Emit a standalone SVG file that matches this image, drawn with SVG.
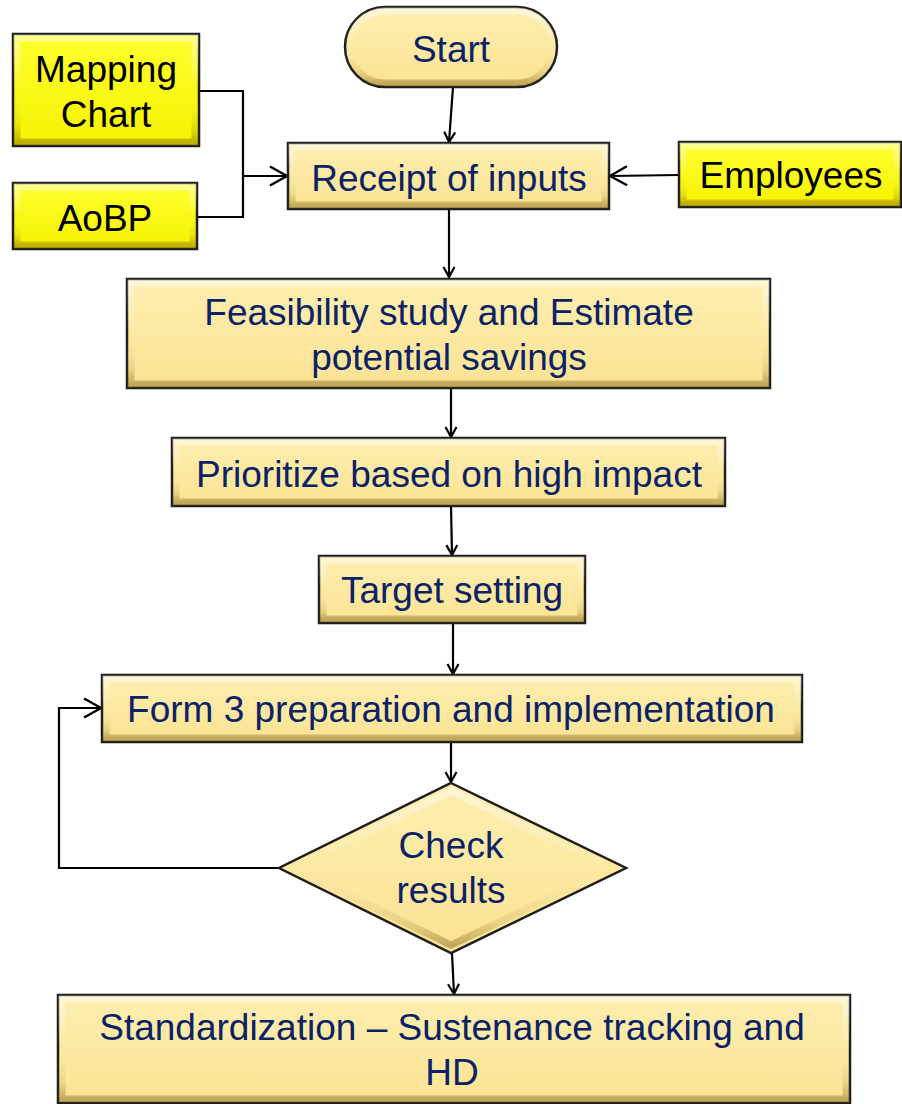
<svg xmlns="http://www.w3.org/2000/svg" width="902" height="1104" viewBox="0 0 902 1104">
<style>
.box{stroke:#1e1e1e;stroke-width:2.5}
.beige{fill:url(#gBeige)}
.yellow{fill:url(#gYellow)}
.bev{fill:none;stroke-width:7;stroke:url(#gBev)}
.t{font-family:"Liberation Sans",Arial,sans-serif;font-size:37px;text-anchor:middle;fill:#0b2266}
.tk{fill:#000}
.c{fill:none;stroke:#000;stroke-width:2.2}
.a{marker-end:url(#arr)}
.A{marker-end:url(#arrL)}
</style>
<defs>
<linearGradient id="gBeige" x1="0" y1="0" x2="0" y2="1">
<stop offset="0" stop-color="#fdeeb0"/><stop offset="1" stop-color="#fbe393"/>
</linearGradient>
<linearGradient id="gYellow" x1="0" y1="0" x2="0" y2="1">
<stop offset="0" stop-color="#ffff30"/><stop offset="1" stop-color="#f6f200"/>
</linearGradient>
<linearGradient id="gBev" x1="0" y1="0" x2="0" y2="1">
<stop offset="0" stop-color="#ffffff" stop-opacity="0.45"/>
<stop offset="0.5" stop-color="#ffffff" stop-opacity="0"/>
<stop offset="0.85" stop-color="#8a6a10" stop-opacity="0.15"/>
<stop offset="1" stop-color="#6a5008" stop-opacity="0.4"/>
</linearGradient>
<marker id="arr" markerUnits="userSpaceOnUse" markerWidth="14" markerHeight="14" viewBox="0 0 14 14" refX="12" refY="7" orient="auto">
<path d="M2,1.5 L12,7 L2,12.5" fill="none" stroke="#000" stroke-width="2.2"/>
</marker>
<marker id="arrL" markerUnits="userSpaceOnUse" markerWidth="22" markerHeight="24" viewBox="0 0 22 24" refX="19" refY="12" orient="auto">
<path d="M2,2.5 L19,12 L2,21.5" fill="none" stroke="#000" stroke-width="2.4"/>
</marker>
</defs>
<rect width="902" height="1104" fill="#fff"/>

<g id="connectors">
<path class="c a" d="M453,87 L449,142"/>
<path class="c" d="M199,91 L243,91 L243,217 L197,217"/>
<path class="c A" d="M243,176 L287,176"/>
<path class="c A" d="M679,175 L610,176"/>
<path class="c a" d="M449,209 L449,277"/>
<path class="c a" d="M451,389 L451,437"/>
<path class="c a" d="M451,506 L452,555"/>
<path class="c a" d="M453,623 L453,674"/>
<path class="c a" d="M451,742 L451,782"/>
<path class="c A" d="M279,868 L59,868 L59,708 L101,708"/>
<path class="c a" d="M452,953 L454,994"/>
</g>

<g id="start">
<rect class="box beige" x="345" y="7" width="212" height="80" rx="40"/>
<rect class="bev" x="349" y="11" width="204" height="72" rx="36"/>
<text class="t" x="451" y="62">Start</text>
</g>

<g id="mapping">
<rect class="box yellow" x="13" y="34" width="186" height="112"/>
<rect class="bev" x="17" y="38" width="178" height="104"/>
<text class="t tk" x="106" y="82">Mapping</text>
<text class="t tk" x="106" y="127">Chart</text>
</g>

<g id="aobp">
<rect class="box yellow" x="13" y="183" width="184" height="66"/>
<rect class="bev" x="17" y="187" width="176" height="58"/>
<text class="t tk" x="105" y="231">AoBP</text>
</g>

<g id="receipt">
<rect class="box beige" x="288" y="143" width="321" height="66"/>
<rect class="bev" x="292" y="147" width="313" height="58"/>
<text class="t" x="449" y="191">Receipt of inputs</text>
</g>

<g id="employees">
<rect class="box yellow" x="679" y="142" width="222" height="65"/>
<rect class="bev" x="683" y="146" width="214" height="57"/>
<text class="t tk" x="791" y="188">Employees</text>
</g>

<g id="feasibility">
<rect class="box beige" x="127" y="279" width="643" height="109"/>
<rect class="bev" x="131" y="283" width="635" height="101"/>
<text class="t" x="449" y="325">Feasibility study and Estimate</text>
<text class="t" x="449" y="370">potential savings</text>
</g>

<g id="prioritize">
<rect class="box beige" x="172" y="438" width="553" height="68"/>
<rect class="bev" x="176" y="442" width="545" height="60"/>
<text class="t" x="449" y="487">Prioritize based on high impact</text>
</g>

<g id="target">
<rect class="box beige" x="319" y="556" width="266" height="67"/>
<rect class="bev" x="323" y="560" width="258" height="59"/>
<text class="t" x="452" y="603">Target setting</text>
</g>

<g id="form3">
<rect class="box beige" x="102" y="675" width="700" height="67"/>
<rect class="bev" x="106" y="679" width="692" height="59"/>
<text class="t" x="451" y="722">Form 3 preparation and implementation</text>
</g>

<g id="check">
<polygon class="box beige" points="451,783 626,868 451,953 279,868"/>
<polygon class="bev" points="451,791 612,868 451,945 293,868" stroke-width="5"/>
<text class="t" x="451" y="858">Check</text>
<text class="t" x="451" y="903">results</text>
</g>

<g id="standardization">
<rect class="box beige" x="58" y="995" width="792" height="108"/>
<rect class="bev" x="62" y="999" width="784" height="100"/>
<text class="t" x="452" y="1040">Standardization – Sustenance tracking and</text>
<text class="t" x="452" y="1085">HD</text>
</g>
</svg>
